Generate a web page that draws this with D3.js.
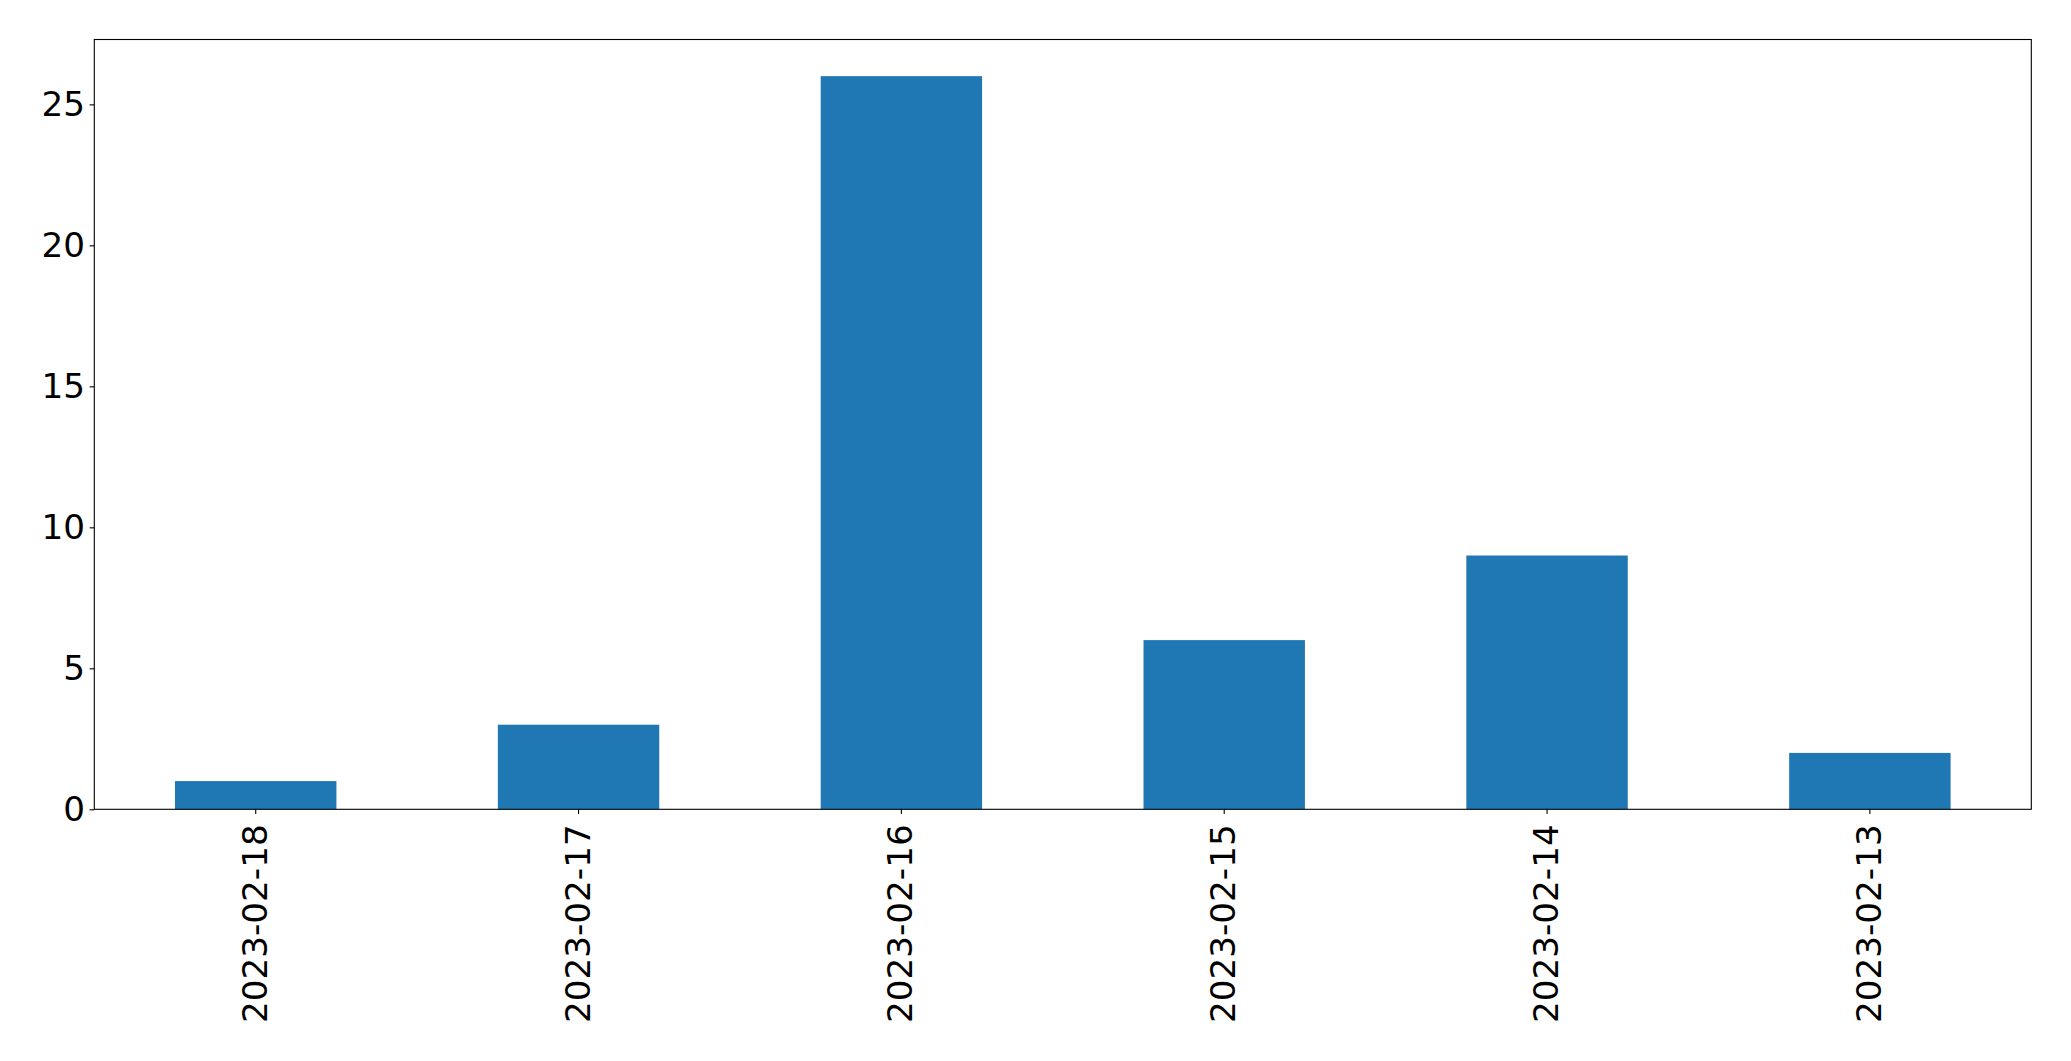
<!DOCTYPE html>
<html>
<head>
<meta charset="utf-8">
<script src="https://cdn.jsdelivr.net/npm/d3@7"></script>
<style>
  html, body { margin: 0; padding: 0; background: #fff; }
  svg { display: block; }
</style>
</head>
<body>
<svg id="chart" width="2071" height="1061"></svg>
<script>
const categories = ["2023-02-18", "2023-02-17", "2023-02-16", "2023-02-15", "2023-02-14", "2023-02-13"];
const values = [1, 3, 26, 6, 9, 2];
const yTicks = [0, 5, 10, 15, 20, 25];

const W = 2071, H = 1061;
const m = { left: 94.3, top: 39.5, right: 2031.3, bottom: 809.3 };
const fontSize = 34.2;
const tickLen = 4.67, pad = 4.67;

const svg = d3.select("#chart");

const x = d3.scaleBand()
  .domain(categories)
  .range([m.left, m.right])
  .paddingInner(0.5)
  .paddingOuter(0.25);

const yMax = d3.max(values) * 1.05;
const y = d3.scaleLinear().domain([0, yMax]).range([m.bottom, m.top]);

// bars
svg.append("g").selectAll("rect")
  .data(values)
  .join("rect")
  .attr("x", (d, i) => x(categories[i]))
  .attr("y", d => y(d))
  .attr("width", x.bandwidth())
  .attr("height", d => y(0) - y(d))
  .attr("fill", "#1f77b4");

// y axis
const yAxis = d3.axisLeft(y).tickValues(yTicks).tickSize(tickLen).tickPadding(pad).tickFormat(d3.format("d"));
const gy = svg.append("g").attr("transform", `translate(${m.left},0)`).call(yAxis);
gy.attr("font-size", null).attr("font-family", null);
gy.select(".domain").remove();
gy.selectAll("line").attr("stroke", "#000").attr("stroke-width", 1.1);
gy.selectAll("text")
  .style("font-family", "DejaVu Sans")
  .style("font-size", fontSize + "px")
  .attr("fill", "#000");

// x axis
const xAxis = d3.axisBottom(x).tickSize(tickLen).tickPadding(pad);
const gx = svg.append("g").attr("transform", `translate(0,${m.bottom})`).call(xAxis);
gx.attr("font-size", null).attr("font-family", null);
gx.select(".domain").remove();
gx.selectAll("line").attr("stroke", "#000").attr("stroke-width", 1.1);
gx.selectAll("text")
  .style("font-family", "DejaVu Sans")
  .style("font-size", fontSize + "px")
  .attr("fill", "#000")
  .attr("y", 0)
  .attr("dy", null)
  .attr("transform", `translate(-1,15) rotate(-90)`)
  .attr("text-anchor", "end")
  .attr("dominant-baseline", "central");

// frame
svg.append("rect")
  .attr("x", m.left).attr("y", m.top)
  .attr("width", m.right - m.left).attr("height", m.bottom - m.top)
  .attr("fill", "none").attr("stroke", "#000").attr("stroke-width", 1.1);
</script>
</body>
</html>
